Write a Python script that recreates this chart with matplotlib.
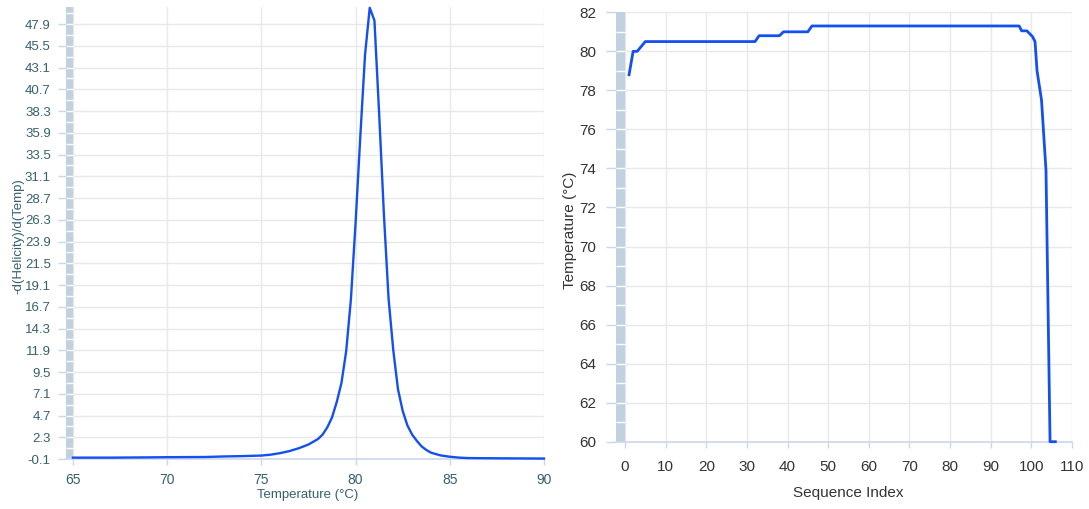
import matplotlib
matplotlib.use("Agg")
import matplotlib.pyplot as plt
from matplotlib import font_manager

# ---------------- data ----------------
# Left: melting derivative curve
temp_c = [65.0, 67.0, 69.0, 70.0, 72.0, 73.0, 74.0, 75.0, 75.5, 76.0, 76.5, 77.0, 77.5,
          78.0, 78.25, 78.5, 78.75, 79.0, 79.25, 79.5, 79.75, 80.0, 80.25, 80.5,
          80.75, 81.0, 81.25, 81.5, 81.75, 82.0, 82.25, 82.5, 82.75, 83.0, 83.25,
          83.5, 83.75, 84.0, 84.5, 85.0, 85.5, 86.0, 88.0, 90.0]
dhelix = [0.05, 0.05, 0.08, 0.10, 0.12, 0.18, 0.22, 0.28, 0.38, 0.55, 0.78, 1.1, 1.5,
          2.1, 2.6, 3.4, 4.5, 6.2, 8.3, 11.8, 17.5, 26.0, 35.5, 44.5,
          49.7, 48.3, 38.0, 27.0, 17.6, 11.9, 7.6, 5.2, 3.6, 2.6, 1.9,
          1.3, 0.9, 0.6, 0.3, 0.15, 0.05, 0.0, -0.03, -0.05]
left_xticks = [65, 70, 75, 80, 85, 90]
left_yticklabels = ["-0.1", "2.3", "4.7", "7.1", "9.5", "11.9", "14.3", "16.7", "19.1",
                    "21.5", "23.9", "26.3", "28.7", "31.1", "33.5", "35.9", "38.3",
                    "40.7", "43.1", "45.5", "47.9"]

# Right: melting temperature along sequence
seq_index = [1, 2, 3, 4, 5, 32, 33, 38, 39, 45, 46, 97, 97.6, 98.9, 100.3, 100.9,
             101.4, 102.5, 103.6, 104.6, 105.9]
seq_temp = [78.8, 80.0, 80.0, 80.25, 80.5, 80.5, 80.8, 80.8, 81.0, 81.0, 81.3, 81.3,
            81.05, 81.05, 80.75, 80.5, 79.0, 77.5, 73.9, 60.0, 60.0]
right_xticks = [0, 10, 20, 30, 40, 50, 60, 70, 80, 90, 100, 110]
right_yticks = [60, 62, 64, 66, 68, 70, 72, 74, 76, 78, 80, 82]

# ---------------- style ----------------
installed = {f.name for f in font_manager.fontManager.ttflist}
narrow = "Liberation Sans Narrow" if "Liberation Sans Narrow" in installed else (
    "DejaVu Sans Condensed" if "DejaVu Sans Condensed" in installed else "Liberation Sans")
narrow_size = 12 if narrow != "Liberation Sans" else 11
plt.rcParams["font.family"] = ["Liberation Sans", "DejaVu Sans"]

LINE = "#1450f0"
GRID = "#e8e8e8"
AXIS = "#ccd6eb"
BAND = "#c2d1e0"
TEAL = "#34606f"
DARK = "#333333"

W, H = 1089, 509
fig = plt.figure(figsize=(W / 100, H / 100), dpi=100)


def px_axes(l, r, top, bottom):
    return fig.add_axes([l / W, 1 - bottom / H, (r - l) / W, (bottom - top) / H])


# ---------------- left chart ----------------
ax1 = px_axes(66, 544, 7, 459)
x_lo1 = 65 - 7 / 18.84
ax1.set_xlim(x_lo1, 90)
y_lo1 = -0.1
ax1.set_ylim(y_lo1, -0.1 + 452 / 9.06)
ax1.axvspan(x_lo1, 65, color=BAND, zorder=1, lw=0)
band_lines1 = [y_lo1 + 1.2 * k for k in range(1, 42)]
ax1.hlines(band_lines1, x_lo1, 65, colors="white", lw=1.0, zorder=1.5)
ax1.plot(temp_c, dhelix, color=LINE, lw=1.7, zorder=3, clip_on=False)

yt1 = [float(s) for s in left_yticklabels]
ax1.set_xticks(left_xticks)
ax1.set_yticks(yt1)
ax1.set_yticklabels(left_yticklabels)
ax1.grid(True, color=GRID, lw=1, zorder=0)
ax1.set_axisbelow(True)
for s in ("top", "right", "left"):
    ax1.spines[s].set_visible(False)
ax1.spines["bottom"].set_color(AXIS)
ax1.spines["bottom"].set_linewidth(1.2)
ax1.tick_params(axis="y", length=6, width=1, color=AXIS, pad=5, labelsize=9.5,
                labelcolor=TEAL)
ax1.tick_params(axis="x", length=4, width=1, color=AXIS, pad=6, labelsize=10,
                labelcolor=TEAL)
fig.text(18 / W, 1 - 236 / H, "-d(Helicity)/d(Temp)", rotation=90, ha="center",
         va="center", fontsize=9.5, color=TEAL)
fig.text(308 / W, 1 - 495 / H, "Temperature (°C)", ha="center", va="center",
         fontsize=9.5, color=TEAL)

# ---------------- right chart ----------------
ax2 = px_axes(616, 1072, 12.3, 441.7)
x_lo2 = -9 / 4.07
ax2.set_xlim(x_lo2, 110)
ax2.set_ylim(60, 82)
ax2.axvspan(x_lo2, 0, color=BAND, zorder=1, lw=0)
band_lines2 = [60 + k for k in range(1, 22)]
ax2.hlines(band_lines2, x_lo2, 0, colors="white", lw=1.0, zorder=1.5)
ax2.plot(seq_index, seq_temp, color=LINE, lw=2.0, zorder=3, clip_on=False,
         solid_joinstyle="round")

ax2.set_xticks(right_xticks)
ax2.set_yticks(right_yticks)
ax2.grid(True, color=GRID, lw=1, zorder=0)
ax2.set_axisbelow(True)
for s in ("top", "right", "left"):
    ax2.spines[s].set_visible(False)
ax2.spines["bottom"].set_color(AXIS)
ax2.spines["bottom"].set_linewidth(1.2)
for lab in ax2.get_xticklabels() + ax2.get_yticklabels():
    lab.set_fontfamily(narrow)
ax2.tick_params(axis="y", length=7, width=1, color=AXIS, pad=7, labelsize=narrow_size,
                labelcolor=DARK)
ax2.tick_params(axis="x", length=4, width=1, color=AXIS, pad=9, labelsize=narrow_size,
                labelcolor=DARK)
fig.text(570 / W, 1 - 230 / H, "Temperature (°C)", rotation=90, ha="center",
         va="center", fontsize=narrow_size, color=DARK, family=narrow)
fig.text(848 / W, 1 - 493 / H, "Sequence Index", ha="center", va="center",
         fontsize=narrow_size, color=DARK, family=narrow)

fig.savefig("out.png", dpi=100)
